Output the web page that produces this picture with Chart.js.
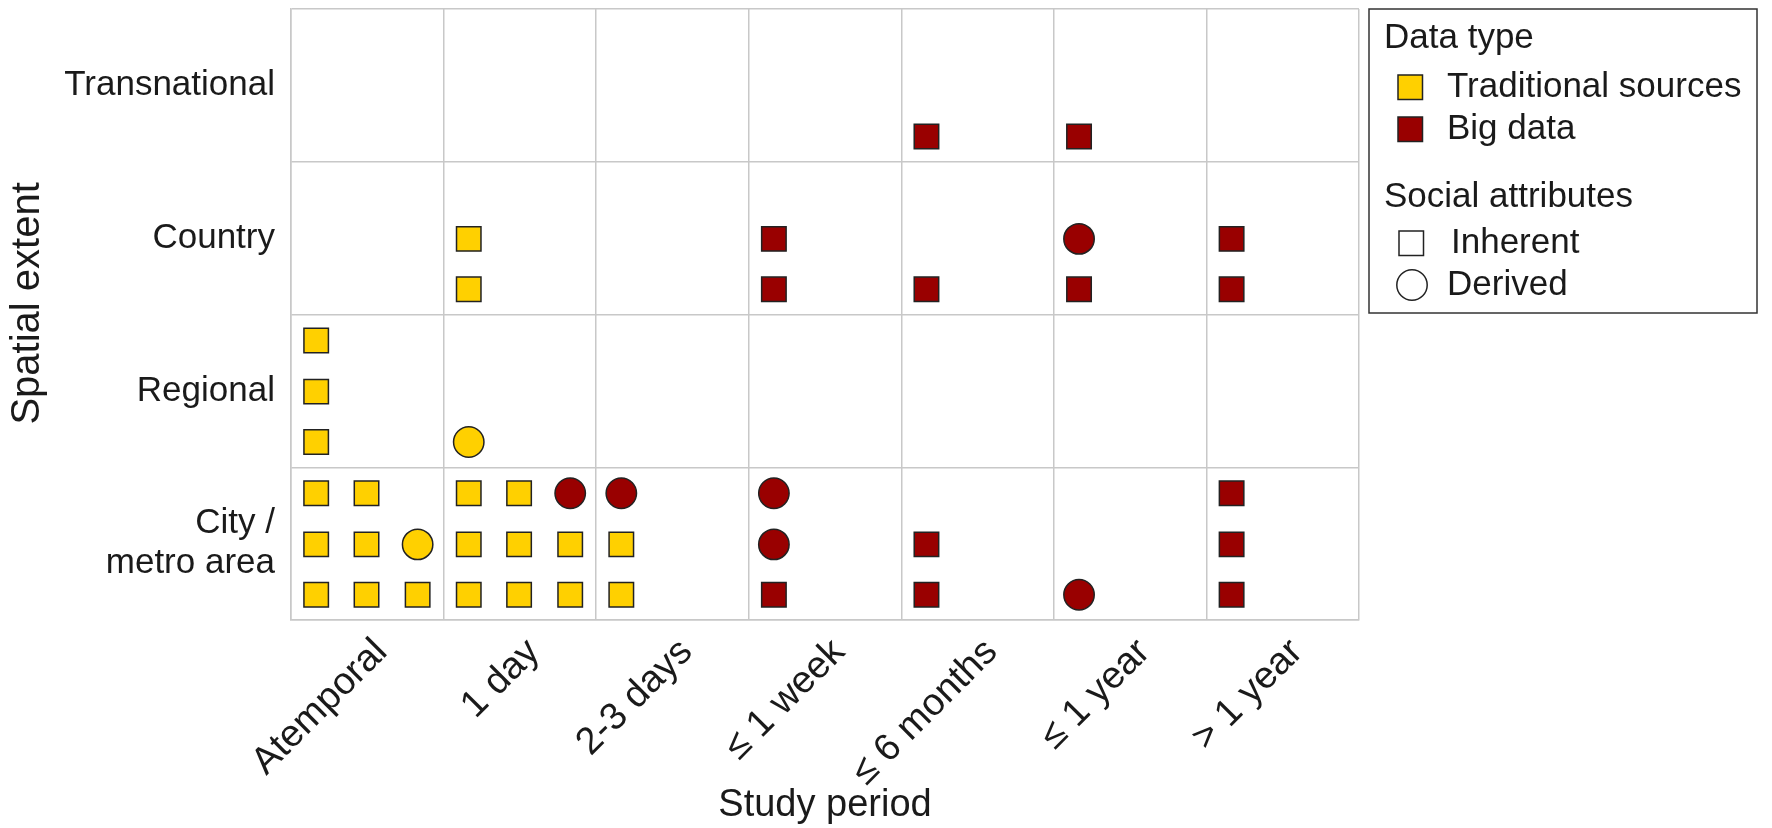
<!DOCTYPE html>
<html>
<head>
<meta charset="utf-8">
<title>Study period vs spatial extent</title>
<script src="https://cdn.jsdelivr.net/npm/chart.js@4.4.1/dist/chart.umd.min.js"></script>
<style>
  html, body { margin: 0; padding: 0; background: #fff; }
  #wrap { width: 1772px; height: 828px; }
</style>
</head>
<body>
<div id="wrap"><canvas id="chart" width="1772" height="828"></canvas></div>
<script>
// categories
var periods = ['Atemporal', '1 day', '2-3 days', '\u2264 1 week', '\u2264 6 months', '\u2264 1 year', '> 1 year'];
var extents = [['City /', 'metro area'], 'Regional', 'Country', 'Transnational']; // bottom to top

// one entry per study: period index, extent index, slot in cell (col from left, row from bottom)
var studyPeriod = [4, 5,
  1, 1, 3, 3, 4, 5, 5, 6, 6,
  0, 0, 0, 1,
  0, 0, 0, 0, 0, 0, 0, 0,
  1, 1, 1, 1, 1, 1, 1, 1, 1,
  2, 2, 2, 3, 3, 3, 4, 4, 5, 6, 6, 6];
var studyExtent = [3, 3,
  2, 2, 2, 2, 2, 2, 2, 2, 2,
  1, 1, 1, 1,
  0, 0, 0, 0, 0, 0, 0, 0,
  0, 0, 0, 0, 0, 0, 0, 0, 0,
  0, 0, 0, 0, 0, 0, 0, 0, 0, 0, 0, 0];
var slotCol = [0, 0,
  0, 0, 0, 0, 0, 0, 0, 0, 0,
  0, 0, 0, 0,
  0, 1, 0, 1, 2, 0, 1, 2,
  0, 1, 2, 0, 1, 2, 0, 1, 2,
  0, 0, 0, 0, 0, 0, 0, 0, 0, 0, 0, 0];
var slotRow = [0, 0,
  1, 0, 1, 0, 0, 1, 0, 1, 0,
  2, 1, 0, 0,
  2, 2, 1, 1, 1, 0, 0, 0,
  2, 2, 2, 1, 1, 1, 0, 0, 0,
  2, 1, 0, 2, 1, 0, 1, 0, 0, 2, 1, 0];
var dataType = ['B', 'B',
  'T', 'T', 'B', 'B', 'B', 'B', 'B', 'B', 'B',
  'T', 'T', 'T', 'T',
  'T', 'T', 'T', 'T', 'T', 'T', 'T', 'T',
  'T', 'T', 'B', 'T', 'T', 'T', 'T', 'T', 'T',
  'B', 'T', 'T', 'B', 'B', 'B', 'B', 'B', 'B', 'B', 'B', 'B'];
var socialAttr = ['I', 'I',
  'I', 'I', 'I', 'I', 'I', 'D', 'I', 'I', 'I',
  'I', 'I', 'I', 'D',
  'I', 'I', 'I', 'I', 'D', 'I', 'I', 'I',
  'I', 'I', 'D', 'I', 'I', 'I', 'I', 'I', 'I',
  'D', 'I', 'I', 'D', 'D', 'I', 'I', 'I', 'D', 'I', 'I', 'I'];

var slotPos = [0.165, 0.495, 0.83];
var YELLOW = '#ffd000', RED = '#990000', INK = '#1a1a1a', GRID = '#c8c8c8';
var FONT = 'Liberation Sans, Arial, sans-serif';

function points(type, attr) {
  var out = [];
  for (var i = 0; i < studyPeriod.length; i++) {
    if (dataType[i] !== type || socialAttr[i] !== attr) continue;
    out.push({x: studyPeriod[i] + slotPos[slotCol[i]], y: studyExtent[i] + slotPos[slotRow[i]]});
  }
  return out;
}

function dataset(label, type, attr) {
  var square = attr === 'I';
  return {
    label: label,
    data: points(type, attr),
    pointStyle: square ? 'rect' : 'circle',
    pointRadius: square ? 17.3 : 15.2,
    pointHoverRadius: square ? 17.3 : 15.2,
    backgroundColor: type === 'T' ? YELLOW : RED,
    borderColor: '#222',
    borderWidth: 1.5,
    showLine: false
  };
}

var legendBox = {
  id: 'legendBox',
  afterDraw: function(chart) {
    var ctx = chart.ctx;
    var left = chart.chartArea.right + 10, top = chart.chartArea.top;
    ctx.save();
    ctx.strokeStyle = '#333';
    ctx.lineWidth = 1.5;
    ctx.strokeRect(left, top, 388, 304);
    ctx.fillStyle = INK;
    ctx.font = '35px ' + FONT;
    ctx.textBaseline = 'middle';
    ctx.textAlign = 'left';
    ctx.fillText('Data type', left + 15, top + 29);
    ctx.fillText('Traditional sources', left + 78, top + 78);
    ctx.fillText('Big data', left + 78, top + 120);
    ctx.fillText('Social attributes', left + 15, top + 188);
    ctx.fillText('Inherent', left + 82, top + 234);
    ctx.fillText('Derived', left + 78, top + 276);
    ctx.lineWidth = 1.5;
    ctx.strokeStyle = '#222';
    ctx.fillStyle = YELLOW;
    ctx.fillRect(left + 29, top + 66, 24.5, 24.5);
    ctx.strokeRect(left + 29, top + 66, 24.5, 24.5);
    ctx.fillStyle = RED;
    ctx.fillRect(left + 29, top + 108, 24.5, 24.5);
    ctx.strokeRect(left + 29, top + 108, 24.5, 24.5);
    ctx.strokeRect(left + 30, top + 222, 24.5, 24.5);
    ctx.beginPath();
    ctx.arc(left + 43, top + 276, 15.2, 0, Math.PI * 2);
    ctx.stroke();
    ctx.restore();
  }
};

function isHalf(v) { return Math.abs(v % 1 - 0.5) < 1e-6; }

new Chart(document.getElementById('chart'), {
  type: 'scatter',
  data: {
    datasets: [
      dataset('Traditional / Inherent', 'T', 'I'),
      dataset('Traditional / Derived', 'T', 'D'),
      dataset('Big data / Inherent', 'B', 'I'),
      dataset('Big data / Derived', 'B', 'D')
    ]
  },
  options: {
    responsive: false,
    animation: false,
    devicePixelRatio: 1,
    layout: {autoPadding: false, padding: {top: 9, right: 413, left: 0, bottom: 0}},
    plugins: {legend: {display: false}, tooltip: {enabled: false}},
    scales: {
      x: {
        type: 'linear', min: 0, max: periods.length,
        afterFit: function(s) { s.height = 208; s.paddingLeft = 0; s.paddingRight = 0; },
        afterBuildTicks: function(s) {
          var t = [];
          for (var v = 0; v <= periods.length; v += 0.5) t.push({value: v});
          s.ticks = t;
        },
        ticks: {
          autoSkip: false, minRotation: 45, maxRotation: 45, padding: 10, labelOffset: 14,
          color: INK, font: {family: FONT, size: 38},
          callback: function(v) { return isHalf(v) ? periods[Math.floor(v)] : ''; }
        },
        grid: {
          drawTicks: false, lineWidth: 1.5,
          color: function(c) { return c.tick && isHalf(c.tick.value) ? 'rgba(0,0,0,0)' : GRID; }
        },
        border: {display: true, color: GRID, width: 1.5},
        title: {display: true, text: 'Study period', color: INK, font: {family: FONT, size: 38}, padding: {top: 0, bottom: 0}}
      },
      y: {
        type: 'linear', min: 0, max: extents.length,
        afterFit: function(s) { s.width = 291; s.paddingTop = 0; s.paddingBottom = 0; },
        afterBuildTicks: function(s) {
          var t = [];
          for (var v = 0; v <= extents.length; v += 0.5) t.push({value: v});
          s.ticks = t;
        },
        ticks: {
          autoSkip: false, padding: 16, color: INK, font: {family: FONT, size: 35, lineHeight: 1.15},
          callback: function(v) { return isHalf(v) ? extents[Math.floor(v)] : ''; }
        },
        grid: {
          drawTicks: false, lineWidth: 1.5,
          color: function(c) { return c.tick && isHalf(c.tick.value) ? 'rgba(0,0,0,0)' : GRID; }
        },
        border: {display: true, color: GRID, width: 1.5},
        title: {display: true, text: '  Spatial extent', color: INK, font: {family: FONT, size: 40}, padding: {top: 4, bottom: 0}}
      }
    }
  },
  plugins: [legendBox]
});
</script>
</body>
</html>
